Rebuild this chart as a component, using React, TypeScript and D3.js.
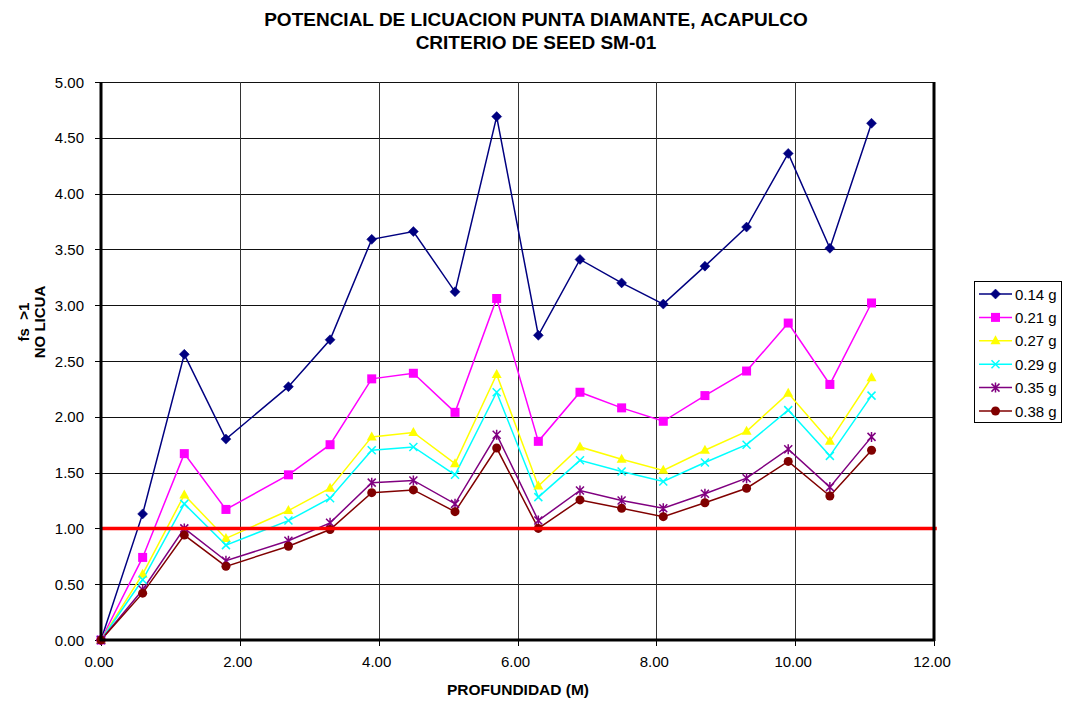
import React from "react";
import * as d3 from "d3";

const depths = [0, 0.6, 1.2, 1.8, 2.7, 3.3, 3.9, 4.5, 5.1, 5.7, 6.3, 6.9, 7.5, 8.1, 8.7, 9.3, 9.9, 10.5, 11.1];
const g014 = [0, 1.13, 2.56, 1.8, 2.27, 2.69, 3.59, 3.66, 3.12, 4.69, 2.73, 3.41, 3.2, 3.01, 3.35, 3.7, 4.36, 3.51, 4.63];
const g021 = [0, 0.74, 1.67, 1.17, 1.48, 1.75, 2.34, 2.39, 2.04, 3.06, 1.78, 2.22, 2.08, 1.96, 2.19, 2.41, 2.84, 2.29, 3.02];
const g027 = [0, 0.59, 1.3, 0.91, 1.16, 1.36, 1.82, 1.86, 1.58, 2.38, 1.38, 1.73, 1.62, 1.52, 1.7, 1.87, 2.21, 1.78, 2.35];
const g029 = [0, 0.54, 1.22, 0.85, 1.07, 1.27, 1.7, 1.73, 1.48, 2.22, 1.28, 1.61, 1.51, 1.42, 1.59, 1.75, 2.06, 1.65, 2.19];
const g035 = [0, 0.45, 1.0, 0.71, 0.89, 1.05, 1.41, 1.43, 1.22, 1.84, 1.07, 1.34, 1.25, 1.18, 1.31, 1.45, 1.71, 1.37, 1.82];
const g038 = [0, 0.42, 0.94, 0.66, 0.84, 0.99, 1.32, 1.345, 1.15, 1.72, 1.0, 1.255, 1.18, 1.105, 1.23, 1.36, 1.6, 1.29, 1.7];
const seriesNames = ["0.14 g", "0.21 g", "0.27 g", "0.29 g", "0.35 g", "0.38 g"];
const seriesColors = ["#000080", "#FF00FF", "#FFFF00", "#00FFFF", "#800080", "#800000"];
const seriesMarkers = ["diamond", "square", "triangle", "x", "asterisk", "circle"];
const seriesValues = [g014, g021, g027, g029, g035, g038];
const xTicks = [0, 2, 4, 6, 8, 10, 12];
const yTicks = [0, 0.5, 1, 1.5, 2, 2.5, 3, 3.5, 4, 4.5, 5];
const thresholdX = [0, 12.04];
const thresholdY = 1.0;

const FONT = "'Liberation Sans', Arial, Helvetica, sans-serif";

function Marker({ kind, x, y, color }: { kind: string; x: number; y: number; color: string }) {
  switch (kind) {
    case "diamond":
      return <path d={`M${x},${y - 5}L${x + 5},${y}L${x},${y + 5}L${x - 5},${y}Z`} fill={color} stroke={color} strokeWidth={0.5} />;
    case "square":
      return <rect x={x - 4.5} y={y - 4.5} width={9} height={9} fill={color} />;
    case "triangle":
      return <path d={`M${x},${y - 5.5}L${x + 5},${y + 3.5}L${x - 5},${y + 3.5}Z`} fill={color} />;
    case "x":
      return <path d={`M${x - 4},${y - 4}L${x + 4},${y + 4}M${x - 4},${y + 4}L${x + 4},${y - 4}`} stroke={color} strokeWidth={1.5} />;
    case "asterisk":
      return (
        <path
          d={`M${x - 4},${y - 4}L${x + 4},${y + 4}M${x - 4},${y + 4}L${x + 4},${y - 4}M${x},${y - 5}L${x},${y + 5}`}
          stroke={color}
          strokeWidth={1.5}
        />
      );
    default:
      return <circle cx={x} cy={y} r={4.5} fill={color} />;
  }
}

export default function App() {
  const left = 101;
  const right = 934;
  const top = 82;
  const bottom = 640;
  const x = d3.scaleLinear().domain([0, 12]).range([left, right]);
  const y = d3.scaleLinear().domain([0, 5]).range([bottom, top]);
  const line = d3
    .line<[number, number]>()
    .x((d) => x(d[0]))
    .y((d) => y(d[1]));

  const legendX = 974;
  const legendY = 281;
  const legendRowH = 23.4;

  return (
    <svg
      width={1065}
      height={702}
      style={{ position: "absolute", left: 0, top: 0, background: "#fff" }}
      fontFamily={FONT}
    >
      <rect x={0} y={0} width={1065} height={702} fill="#fff" />
      {/* title */}
      <text x={536} y={26} textAnchor="middle" fontSize={19} fontWeight="bold">
        POTENCIAL DE LICUACION PUNTA DIAMANTE, ACAPULCO
      </text>
      <text x={536} y={49} textAnchor="middle" fontSize={19} fontWeight="bold">
        CRITERIO DE SEED SM-01
      </text>

      {/* gridlines */}
      {yTicks.map((t) => (
        <line key={"gy" + t} x1={left} x2={right} y1={Math.round(y(t)) + 0.5} y2={Math.round(y(t)) + 0.5} stroke="#111" strokeWidth={1} />
      ))}
      {xTicks.slice(1, -1).map((t) => (
        <line key={"gx" + t} x1={Math.round(x(t)) + 0.5} x2={Math.round(x(t)) + 0.5} y1={top} y2={bottom} stroke="#333" strokeWidth={1} />
      ))}

      {/* y ticks & labels */}
      {yTicks.map((t) => (
        <g key={"yt" + t}>
          <line x1={left - 6} x2={left} y1={Math.round(y(t)) + 0.5} y2={Math.round(y(t)) + 0.5} stroke="#000" />
          <text x={84} y={y(t) + 5.5} textAnchor="end" fontSize={15}>
            {t.toFixed(2)}
          </text>
        </g>
      ))}
      {/* x ticks & labels */}
      {xTicks.map((t) => (
        <g key={"xt" + t}>
          <line x1={Math.round(x(t)) + 0.5} x2={Math.round(x(t)) + 0.5} y1={bottom} y2={bottom + 6} stroke="#000" />
          <text x={x(t) - 2} y={667} textAnchor="middle" fontSize={15}>
            {t.toFixed(2)}
          </text>
        </g>
      ))}

      {/* axis titles */}
      <text x={518} y={695} textAnchor="middle" fontSize={15.5} fontWeight="bold">
        PROFUNDIDAD (M)
      </text>
      <g transform={`translate(29,322) rotate(-90)`}>
        <text x={0} y={0} textAnchor="middle" fontSize={15} fontWeight="bold">
          {"fs\u00a0\u00a0>1"}
        </text>
        <text x={0} y={16} textAnchor="middle" fontSize={15} fontWeight="bold">
          NO LICUA
        </text>
      </g>

      {/* series */}
      {seriesValues.map((vals, i) => {
        const pts: [number, number][] = depths.map((d, j) => [d, vals[j]]);
        return <path key={"s" + i} d={line(pts) || ""} fill="none" stroke={seriesColors[i]} strokeWidth={1.5} />;
      })}
      {seriesValues.map((vals, i) => (
        <g key={"m" + i}>
          {depths.map((d, j) => (
            <Marker key={j} kind={seriesMarkers[i]} x={x(d)} y={y(vals[j])} color={seriesColors[i]} />
          ))}
        </g>
      ))}

      {/* threshold */}
      <line x1={x(thresholdX[0])} x2={x(thresholdX[1])} y1={y(thresholdY)} y2={y(thresholdY)} stroke="#FF0000" strokeWidth={3.5} />

      {/* axes borders */}
      <line x1={left} x2={left} y1={top} y2={bottom + 1} stroke="#000" strokeWidth={3} />
      <line x1={left - 1} x2={right + 1} y1={bottom} y2={bottom} stroke="#000" strokeWidth={3} />
      <line x1={right} x2={right} y1={top} y2={bottom + 1} stroke="#000" strokeWidth={3} />

      {/* legend */}
      <rect x={legendX + 0.5} y={legendY + 0.5} width={87} height={141} fill="#fff" stroke="#000" strokeWidth={1} />
      {seriesNames.map((n, i) => {
        const cy = legendY + 13 + i * legendRowH;
        return (
          <g key={"l" + i}>
            <line x1={979} x2={1012} y1={cy} y2={cy} stroke={seriesColors[i]} strokeWidth={1.5} />
            <Marker kind={seriesMarkers[i]} x={995.5} y={cy} color={seriesColors[i]} />
            <text x={1015} y={cy + 5.5} fontSize={15}>
              {n}
            </text>
          </g>
        );
      })}
    </svg>
  );
}
